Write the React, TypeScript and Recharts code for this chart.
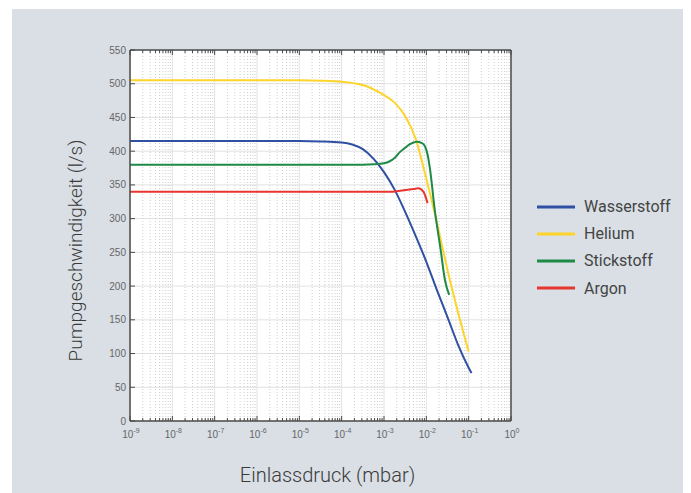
import { LineChart, Line, XAxis, YAxis, CartesianGrid, Legend, Label } from "recharts"

// tick values
const majorTicks = [1e-9, 1e-8, 1e-7, 1e-6, 1e-5, 1e-4, 1e-3, 1e-2, 1e-1, 1]
const exponents = ["-9", "-8", "-7", "-6", "-5", "-4", "-3", "-2", "-1", "0"]
const minorTicks = majorTicks.slice(0, -1).flatMap((d) => [2, 3, 4, 5, 6, 7, 8, 9].map((m) => m * d))
const yTicks = [0, 50, 100, 150, 200, 250, 300, 350, 400, 450, 500, 550]

// Wasserstoff
const wasserstoffP = [1e-9, 1e-5, 3.16e-5, 1e-4, 1.78e-4, 3.16e-4, 5.62e-4, 1e-3, 1.78e-3, 3.16e-3, 5.62e-3, 1e-2, 1.78e-2, 3.16e-2, 5.62e-2, 0.1, 0.117]
const wasserstoffS = [415, 415, 414.5, 413, 410, 403, 389, 369, 343, 310, 274, 236, 194, 154, 113, 79, 71]

// Helium
const heliumP = [1e-9, 1e-5, 3.16e-5, 1e-4, 3.16e-4, 1e-3, 1.78e-3, 3.16e-3, 5.62e-3, 1e-2, 1.78e-2, 3.16e-2, 5.62e-2, 0.1]
const heliumS = [505, 505, 504.5, 503, 498, 483, 472, 452, 418, 359, 294, 224, 161, 103]

// Stickstoff
const stickstoffP = [1e-9, 1e-4, 3.16e-4, 5.62e-4, 1e-3, 1.26e-3, 1.78e-3, 2.4e-3, 3.16e-3, 4e-3, 5.9e-3, 7.9e-3, 9.3e-3, 1.07e-2, 1.23e-2, 1.58e-2, 2.19e-2, 2.75e-2, 3.47e-2]
const stickstoffS = [380, 380, 380, 380.5, 382, 384, 390, 399, 405, 410, 414, 412, 407, 395, 372, 313, 253, 209, 187]

// Argon
const argonP = [1e-9, 1e-3, 1.66e-3, 2.9e-3, 5e-3, 6.5e-3, 8.5e-3, 1.07e-2]
const argonS = [340, 340, 340, 342, 344, 345, 340, 323]

const series = [
    { name: "Wasserstoff", color: "#2f50a3", p: wasserstoffP, s: wasserstoffS },
    { name: "Helium", color: "#fdd42a", p: heliumP, s: heliumS },
    { name: "Stickstoff", color: "#1d8a45", p: stickstoffP, s: stickstoffS },
    { name: "Argon", color: "#e8352f", p: argonP, s: argonS },
]

const axisColor = "#4a4a4a"
const tickFont = "'Liberation Sans', Arial, sans-serif"
const titleFont = "Roboto, 'Noto Sans', sans-serif"

const isMajor = (v: number) => majorTicks.findIndex((m) => Math.abs(Math.log10(m) - Math.log10(v)) < 1e-6)

const BottomTick = (props: any) => {
    const { x, y, payload } = props
    const idx = isMajor(payload.value)
    return (
        <g>
            <line x1={x} x2={x} y1={y} y2={y - (idx >= 0 ? 5 : 3)} stroke={axisColor} />
            {idx >= 0 && (
                <text x={x + 1} y={y + 17} textAnchor="middle" fontSize={10} fill="#666" fontFamily={tickFont}>
                    <tspan>10</tspan>
                    <tspan dy={-5} fontSize={7}>{exponents[idx]}</tspan>
                </text>
            )}
        </g>
    )
}

const TopTick = (props: any) => {
    const { x, y, payload } = props
    const idx = isMajor(payload.value)
    return <line x1={x} x2={x} y1={y} y2={y + (idx >= 0 ? 5 : 3)} stroke={axisColor} />
}

const LeftTick = (props: any) => {
    const { x, y, payload } = props
    return (
        <g>
            <line x1={x} x2={x + 5} y1={y} y2={y} stroke={axisColor} />
            <text x={x - 4} y={y} textAnchor="end" dominantBaseline="central" fontSize={10} fill="#666" fontFamily={tickFont}>
                {payload.value}
            </text>
        </g>
    )
}

const RightTick = (props: any) => {
    const { x, y } = props
    return <line x1={x} x2={x - 5} y1={y} y2={y} stroke={axisColor} />
}

const YTitle = (props: any) => {
    const { viewBox } = props
    const cx = viewBox.x - 15
    const cy = viewBox.y + viewBox.height / 2 + 15
    return (
        <text
            transform={`translate(${cx},${cy}) rotate(-90)`}
            textAnchor="middle"
            dominantBaseline="central"
            fontSize={19}
            fill="#3a3a3a"
            fontFamily={titleFont}
            fontWeight={300}
        >
            Pumpgeschwindigkeit (l/s)
        </text>
    )
}

const XTitle = (props: any) => {
    const { viewBox } = props
    const cx = viewBox.x + viewBox.width / 2 + 7
    const cy = viewBox.y + viewBox.height + 24
    return (
        <text x={cx} y={cy} textAnchor="middle" dominantBaseline="central" fontSize={20} fill="#3a3a3a" fontFamily={titleFont} fontWeight={300}>
            Einlassdruck (mbar)
        </text>
    )
}

const LegendBox = () => (
    <div style={{ fontFamily: titleFont, fontSize: 16, color: "#444" }}>
        {series.map((s) => (
            <div key={s.name} style={{ display: "flex", alignItems: "center", height: 27.2 }}>
                <svg width={40} height={6} style={{ marginRight: 8 }}>
                    <line x1={1} x2={39} y1={3} y2={3} stroke={s.color} strokeWidth={3} />
                </svg>
                <span>{s.name}</span>
            </div>
        ))}
    </div>
)

export default function App() {
    return (
        <div style={{ position: "absolute", left: 0, top: 0, width: 691, height: 493, background: "#fff" }}>
            <div style={{ position: "absolute", left: 12, top: 9, width: 671, height: 484, background: "#d9dfe5" }} />
            <div style={{ position: "absolute", left: 0, top: 0 }}>
                <LineChart width={691} height={493} margin={{ top: 49, right: 179, bottom: 42, left: 90 }}>
                    <CartesianGrid fill="#fff" stroke="#e2e2e2" verticalValues={majorTicks} horizontalValues={yTicks} />
                    <CartesianGrid
                        fill="none"
                        horizontal={false}
                        stroke="#cfcfcf"
                        strokeDasharray="1 2"
                        verticalValues={minorTicks}
                    />
                    <XAxis
                        dataKey="p"
                        type="number"
                        scale="log"
                        domain={[1e-9, 1]}
                        allowDataOverflow
                        ticks={[...majorTicks, ...minorTicks]}
                        interval={0}
                        tickSize={0}
                        tickMargin={0}
                        tickLine={false}
                        tick={<BottomTick />}
                        axisLine={{ stroke: axisColor, strokeWidth: 1.5 }}
                        height={30}
                    >
                        <Label content={<XTitle />} />
                    </XAxis>
                    <XAxis
                        xAxisId="top"
                        orientation="top"
                        dataKey="p"
                        type="number"
                        scale="log"
                        domain={[1e-9, 1]}
                        allowDataOverflow
                        ticks={[...majorTicks, ...minorTicks]}
                        interval={0}
                        tickSize={0}
                        tickMargin={0}
                        tickLine={false}
                        tick={<TopTick />}
                        axisLine={{ stroke: axisColor, strokeWidth: 1.5 }}
                        height={1}
                    />
                    <YAxis
                        type="number"
                        domain={[0, 550]}
                        ticks={yTicks}
                        interval={0}
                        tickSize={0}
                        tickMargin={0}
                        tickLine={false}
                        tick={<LeftTick />}
                        axisLine={{ stroke: axisColor, strokeWidth: 1.5 }}
                        width={40}
                    >
                        <Label content={<YTitle />} />
                    </YAxis>
                    <YAxis
                        yAxisId="right"
                        orientation="right"
                        type="number"
                        domain={[0, 550]}
                        ticks={yTicks}
                        interval={0}
                        tickSize={0}
                        tickMargin={0}
                        tickLine={false}
                        tick={<RightTick />}
                        axisLine={{ stroke: axisColor, strokeWidth: 1.5 }}
                        width={1}
                    />
                    {series.map((s) => (
                        <Line
                            key={s.name}
                            data={s.p.map((p, i) => ({ p, v: s.s[i] }))}
                            dataKey="v"
                            name={s.name}
                            type="monotone"
                            stroke={s.color}
                            strokeWidth={2}
                            dot={false}
                            isAnimationActive={false}
                        />
                    ))}
                    <Legend
                        layout="vertical"
                        align="center"
                        verticalAlign="middle"
                        content={<LegendBox />}
                        wrapperStyle={{ left: 536, top: 193, width: 150 }}
                    />
                </LineChart>
            </div>
        </div>
    )
}
